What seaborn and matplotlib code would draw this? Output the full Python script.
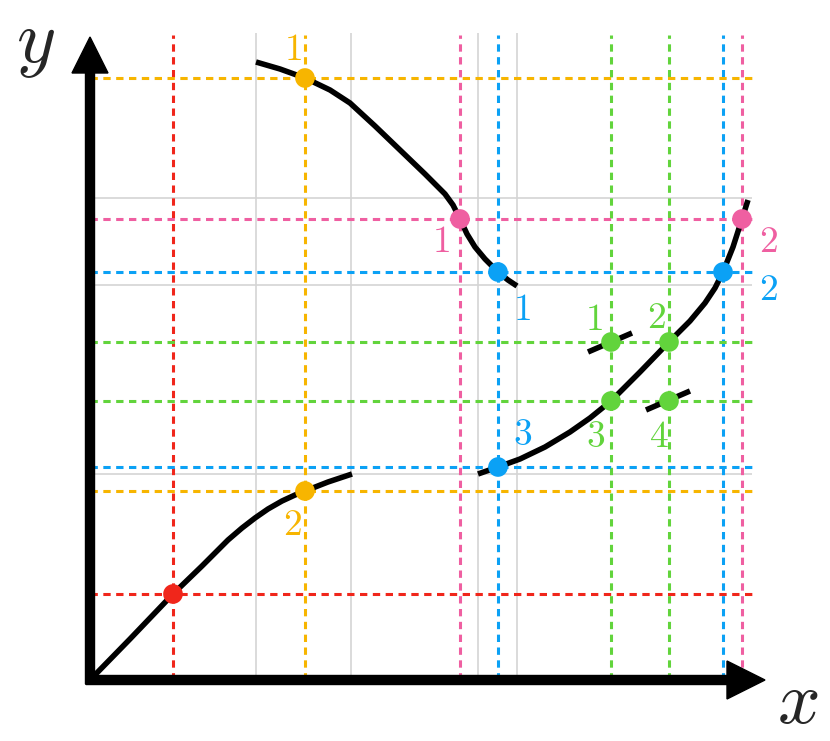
import matplotlib
matplotlib.use("Agg")
import matplotlib.pyplot as plt
import seaborn as sns
import pandas as pd

# curve samples (origin at the axes corner)
curve_a_x = [0, 40, 83, 112, 138, 152, 165, 178, 192, 205, 215, 238, 262]
curve_a_y = [0, 41, 86, 114, 140, 152, 162, 171, 179, 185, 189, 198, 206]

curve_b_x = [166, 190, 215, 240, 260, 285, 310, 335, 355, 363, 370, 377, 385, 395, 408, 418, 427]
curve_b_y = [618, 611, 602, 590, 577, 554, 530, 506, 486, 475, 461, 446, 433, 421, 408, 400, 394]

curve_c_x = [388, 408, 430, 455, 480, 500, 521, 550, 579, 600, 615, 625, 633, 643, 652, 658]
curve_c_y = [206, 213, 221, 233, 248, 262, 279, 308, 338, 359, 377, 392, 408, 433, 461, 480]

tangent1_x = [498, 542]
tangent1_y = [328, 347]
tangent2_x = [556, 600]
tangent2_y = [270, 289]

# guide lines
grey_vx = [166, 261, 388, 427]
grey_hy = [482, 395, 206]

colors = {
    "red": "#f0261b",
    "yellow": "#f7b500",
    "pink": "#ef5fa1",
    "blue": "#0ba1f5",
    "green": "#62d43c",
}

guide_vx = {"red": [83], "yellow": [215], "pink": [370, 652], "blue": [408, 633], "green": [521, 579]}
guide_hy = {"red": [86], "yellow": [602, 189], "pink": [461], "blue": [408, 213], "green": [338, 279]}

# marked points and their labels
pt_color = ["yellow", "yellow", "red", "pink", "pink", "blue", "blue", "blue",
            "green", "green", "green", "green"]
pt_x = [215, 215, 83, 370, 652, 408, 633, 408, 521, 579, 521, 579]
pt_y = [602, 189, 86, 461, 461, 408, 408, 213, 338, 338, 279, 279]
pt_label = ["1", "2", "", "1", "2", "1", "2", "3", "1", "2", "3", "4"]
lab_x = [203, 202, 0, 351, 678, 432, 678, 433, 504, 566, 506, 569]
lab_y = [630, 155, 0, 438, 438, 370, 390, 245, 360, 362, 243, 243]

sns.set_theme(style="white")
plt.rcParams["mathtext.fontset"] = "cm"

fig = plt.figure(figsize=(8.3, 7.41), dpi=100)
ax = fig.add_axes([0, 0, 1, 1])
ax.set_xlim(-90, 740)
ax.set_ylim(-61, 680)
ax.axis("off")

# light grey grid
ax.vlines(grey_vx, 0, 647, color="#d4d4d4", lw=1.2, zorder=1)
ax.hlines(grey_hy, 0, 662, color="#d4d4d4", lw=1.2, zorder=1)

# coloured dashed guides
dash = (0, (2.4, 1.8))
for name, xs in guide_vx.items():
    ax.vlines(xs, 0, 645, color=colors[name], lw=2.2, linestyles=[dash], zorder=2)
for name, ys in guide_hy.items():
    ax.hlines(ys, 0, 662, color=colors[name], lw=2.2, linestyles=[dash], zorder=2)

# black curves
for cx, cy in [(curve_a_x, curve_a_y), (curve_b_x, curve_b_y), (curve_c_x, curve_c_y),
               (tangent1_x, tangent1_y), (tangent2_x, tangent2_y)]:
    seg = pd.DataFrame({"x": cx, "y": cy})
    sns.lineplot(data=seg, x="x", y="y", sort=False, estimator=None, color="black",
                 linewidth=4.0, ax=ax, zorder=3)
for ln in ax.get_lines():
    ln.set_solid_joinstyle("round")
    ln.set_solid_capstyle("butt")

# dots
pts = pd.DataFrame({"x": pt_x, "y": pt_y, "c": pt_color})
sns.scatterplot(data=pts, x="x", y="y", hue="c", palette=colors, s=200,
                linewidth=0, legend=False, ax=ax, zorder=4)

for lbl, lx, ly, c in zip(pt_label, lab_x, lab_y, pt_color):
    if lbl:
        ax.text(lx, ly, f"${lbl}$", color=colors[c], fontsize=27,
                ha="center", va="center", zorder=5)

# axes with arrow heads
ax.arrow(-4, 0, 679, 0, width=9, head_width=38, head_length=38,
         length_includes_head=True, color="black", zorder=6)
ax.arrow(0, -4, 0, 647, width=9, head_width=36, head_length=36,
         length_includes_head=True, color="black", zorder=6)

ax.text(-55, 637, "$y$", fontsize=54, ha="center", va="center")
ax.text(708, -22, "$x$", fontsize=54, ha="center", va="center")

fig.savefig("out.png", dpi=100)
